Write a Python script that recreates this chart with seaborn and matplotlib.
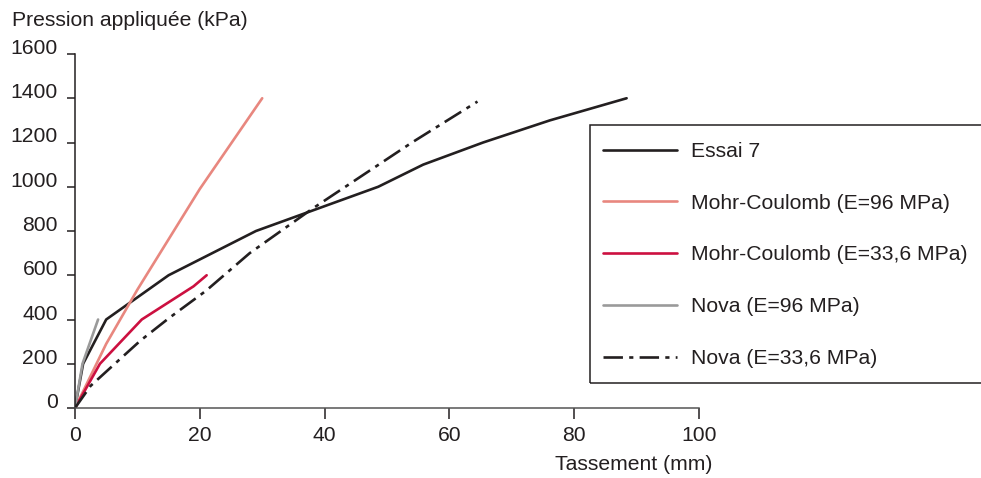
import matplotlib
matplotlib.use("Agg")
import matplotlib.pyplot as plt
import seaborn as sns
import pandas as pd
from matplotlib.patches import Rectangle

# ---- data ----
essai_x = [0, 1.3, 5, 15, 29, 48.6, 55.8, 65.4, 76.1, 88.4]
essai_y = [0, 200, 400, 600, 800, 1000, 1100, 1200, 1300, 1400]

mc96_x = [0, 5, 10, 20, 30]
mc96_y = [0, 290, 535, 990, 1400]

mc336_x = [0, 4, 10.7, 19, 21.1]
mc336_y = [0, 200, 400, 550, 600]

nova96_x = [0, 1.2, 3.7]
nova96_y = [0, 200, 400]

nova336_x = [0, 2.5, 6, 10.5, 15, 21, 28, 38, 54, 64.5]
nova336_y = [0, 100, 190, 305, 405, 530, 700, 900, 1200, 1385]

labels = ["Essai 7", "Mohr-Coulomb (E=96 MPa)", "Mohr-Coulomb (E=33,6 MPa)",
          "Nova (E=96 MPa)", "Nova (E=33,6 MPa)"]
x_ticks = [0, 20, 40, 60, 80, 100]
y_ticks = [0, 200, 400, 600, 800, 1000, 1200, 1400, 1600]

sns.set_theme(style="white")
plt.rcParams["font.family"] = ["Liberation Sans", "DejaVu Sans"]
plt.rcParams["lines.scale_dashes"] = False

FS = 15.2

fig = plt.figure(figsize=(9.81, 4.78), dpi=100)
ax = fig.add_axes([75 / 981, 1 - 408 / 478, 624 / 981, 354 / 478])

series = [
    (essai_x, essai_y, labels[0], "#231f20", None),
    (mc96_x, mc96_y, labels[1], "#e8877f", None),
    (mc336_x, mc336_y, labels[2], "#cc1040", None),
    (nova96_x, nova96_y, labels[3], "#9a9a9a", None),
    (nova336_x, nova336_y, labels[4], "#231f20", (0, (14, 4.5, 3, 4.5))),
]
for xs, ys, lab, col, ls in series:
    df = pd.DataFrame({"x": xs, "y": ys})
    sns.lineplot(data=df, x="x", y="y", ax=ax, color=col, sort=False,
                 linewidth=1.9, label=lab, estimator=None,
                 linestyle=ls if ls else "-")

ax.set_xlim(0, 100)
ax.set_ylim(0, 1600)
ax.set_xticks(x_ticks)
ax.set_yticks(y_ticks)
ax.set_xlabel("")
ax.set_ylabel("")
for s in ["top", "right"]:
    ax.spines[s].set_visible(False)
ax.spines["left"].set_color("#231f20")
ax.spines["left"].set_linewidth(1.1)
ax.spines["bottom"].set_color("#555555")
ax.spines["bottom"].set_linewidth(1.1)
ax.tick_params(axis="y", direction="out", length=6, width=1.1, color="#231f20",
               labelsize=FS, pad=6.3, labelcolor="#231f20", left=True)
ax.tick_params(axis="x", direction="out", length=8, width=1.1, color="#231f20",
               labelsize=FS, pad=5, labelcolor="#231f20", bottom=True)
for t in ax.get_yticklabels():
    t.set_verticalalignment("baseline")

fig.text(12 / 981, 1 - 20 / 478, "Pression appliquée (kPa)", fontsize=FS,
         color="#231f20", ha="left", va="center")
fig.text(712 / 981, 1 - 464 / 478, "Tassement (mm)", fontsize=FS,
         color="#231f20", ha="right", va="center")

ax.get_legend().remove()
handles, labs = ax.get_legend_handles_labels()
leg = fig.legend(handles, labs, loc="upper left",
                 bbox_to_anchor=(603 / 981, 1 - 142 / 478),
                 frameon=False, fontsize=FS, handlelength=3.5,
                 handletextpad=0.65, labelspacing=1.55, borderpad=0,
                 borderaxespad=0)
for t in leg.get_texts():
    t.set_color("#231f20")
fig.patches.append(Rectangle((590 / 981, 1 - 383 / 478), 0.5, 258 / 478,
                             transform=fig.transFigure, fill=False,
                             edgecolor="#231f20", linewidth=1.1))

fig.savefig("out.png", dpi=100)
